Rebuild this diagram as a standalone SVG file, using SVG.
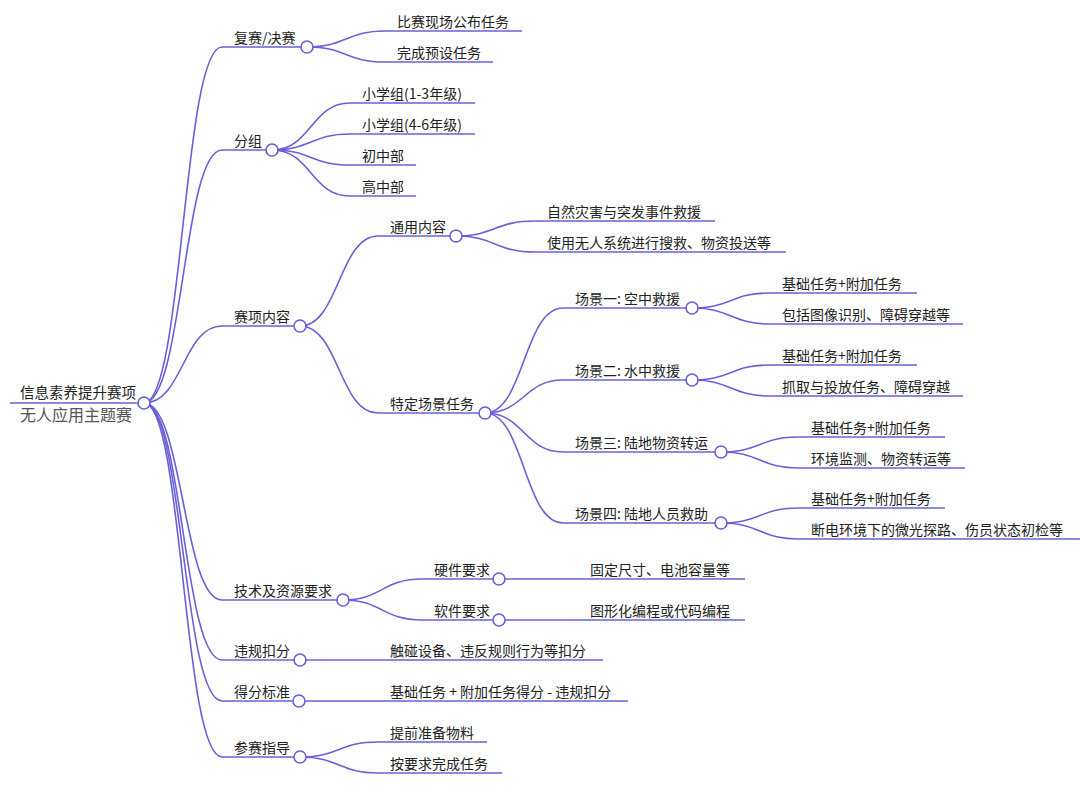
<svg xmlns="http://www.w3.org/2000/svg" width="1080" height="796" viewBox="0 0 1080 796">
<style>
.l{stroke:#6a5fda;stroke-width:1.6;fill:none}
.n line{stroke:#6a5fda;stroke-width:1.6}
.n circle{fill:#fff;stroke:#6a5fda;stroke-width:1.6}
text{font-family:"Noto Sans CJK SC","Noto Sans",sans-serif;font-size:14px;fill:#222}
.sub{font-size:16px;fill:#555}
.rt{font-size:14.5px}
</style>
<rect width="1080" height="796" fill="#fff"/>
<g id="connectors">
<path class="l" d="M144,403 C183,403 183,47 222,47"/>
<path class="l" d="M144,403 C183,403 183,150 222,150"/>
<path class="l" d="M144,403 C183,403 183,326 222,326"/>
<path class="l" d="M144,403 C183,403 183,600 222,600"/>
<path class="l" d="M144,403 C183,403 183,660 222,660"/>
<path class="l" d="M144,403 C183,403 183,701 222,701"/>
<path class="l" d="M144,403 C183,403 183,757 222,757"/>
<path class="l" d="M307,47 C346,47 346,31 385,31"/>
<path class="l" d="M307,47 C346,47 346,62 385,62"/>
<path class="l" d="M272,150 C311,150 311,103 350,103"/>
<path class="l" d="M272,150 C311,150 311,134 350,134"/>
<path class="l" d="M272,150 C311,150 311,165 350,165"/>
<path class="l" d="M272,150 C311,150 311,196 350,196"/>
<path class="l" d="M300,326 C339,326 339,236 378,236"/>
<path class="l" d="M300,326 C339,326 339,413 378,413"/>
<path class="l" d="M456,236 C495,236 495,221 535,221"/>
<path class="l" d="M456,236 C495,236 495,252 535,252"/>
<path class="l" d="M485,413 C524,413 524,308 563,308"/>
<path class="l" d="M485,413 C524,413 524,380 563,380"/>
<path class="l" d="M485,413 C524,413 524,452 563,452"/>
<path class="l" d="M485,413 C524,413 524,523 563,523"/>
<path class="l" d="M692,308 C731,308 731,293 770,293"/>
<path class="l" d="M692,308 C731,308 731,324 770,324"/>
<path class="l" d="M692,380 C731,380 731,365 770,365"/>
<path class="l" d="M692,380 C731,380 731,396 770,396"/>
<path class="l" d="M721,452 C760,452 760,437 799,437"/>
<path class="l" d="M721,452 C760,452 760,468 799,468"/>
<path class="l" d="M721,523 C760,523 760,508 799,508"/>
<path class="l" d="M721,523 C760,523 760,539 799,539"/>
<path class="l" d="M343,600 C382,600 382,579 422,579"/>
<path class="l" d="M343,600 C382,600 382,620 422,620"/>
<path class="l" d="M499,579 L578,579"/>
<path class="l" d="M499,620 L578,620"/>
<path class="l" d="M300,660 L378,660"/>
<path class="l" d="M299,701 L378,701"/>
<path class="l" d="M300,757 C339,757 339,742 378,742"/>
<path class="l" d="M300,757 C339,757 339,773 378,773"/>
</g>
<g id="n-root" class="n"><line x1="10" y1="403" x2="144" y2="403"/><text class="rt" x="20" y="398">信息素养提升赛项</text><text class="sub" x="20" y="421">无人应用主题赛</text><circle cx="144" cy="403" r="6"/></g>
<g id="n-fusai" class="n"><line x1="222" y1="47" x2="307" y2="47"/><text x="234" y="43">复赛/决赛</text><circle cx="307" cy="47" r="6"/></g>
<g id="n-fusai-1" class="n"><line x1="385" y1="31" x2="522" y2="31"/><text x="397" y="27">比赛现场公布任务</text></g>
<g id="n-fusai-2" class="n"><line x1="385" y1="62" x2="493" y2="62"/><text x="397" y="58">完成预设任务</text></g>
<g id="n-fenzu" class="n"><line x1="222" y1="150" x2="272" y2="150"/><text x="234" y="146">分组</text><circle cx="272" cy="150" r="6"/></g>
<g id="n-fenzu-1" class="n"><line x1="350" y1="103" x2="475" y2="103"/><text x="362" y="99">小学组(1-3年级)</text></g>
<g id="n-fenzu-2" class="n"><line x1="350" y1="134" x2="475" y2="134"/><text x="362" y="130">小学组(4-6年级)</text></g>
<g id="n-fenzu-3" class="n"><line x1="350" y1="165" x2="416" y2="165"/><text x="362" y="161">初中部</text></g>
<g id="n-fenzu-4" class="n"><line x1="350" y1="196" x2="416" y2="196"/><text x="362" y="192">高中部</text></g>
<g id="n-neirong" class="n"><line x1="222" y1="326" x2="300" y2="326"/><text x="234" y="322">赛项内容</text><circle cx="300" cy="326" r="6"/></g>
<g id="n-tongyong" class="n"><line x1="378" y1="236" x2="456" y2="236"/><text x="390" y="232">通用内容</text><circle cx="456" cy="236" r="6"/></g>
<g id="n-tongyong-1" class="n"><line x1="535" y1="221" x2="715" y2="221"/><text x="547" y="217">自然灾害与突发事件救援</text></g>
<g id="n-tongyong-2" class="n"><line x1="535" y1="252" x2="786" y2="252"/><text x="547" y="248">使用无人系统进行搜救、物资投送等</text></g>
<g id="n-teding" class="n"><line x1="378" y1="413" x2="485" y2="413"/><text x="390" y="409">特定场景任务</text><circle cx="485" cy="413" r="6"/></g>
<g id="n-cj1" class="n"><line x1="563" y1="308" x2="692" y2="308"/><text x="575" y="304">场景一: 空中救援</text><circle cx="692" cy="308" r="6"/></g>
<g id="n-cj1-1" class="n"><line x1="770" y1="293" x2="917" y2="293"/><text x="782" y="289">基础任务+附加任务</text></g>
<g id="n-cj1-2" class="n"><line x1="770" y1="324" x2="963" y2="324"/><text x="782" y="320">包括图像识别、障碍穿越等</text></g>
<g id="n-cj2" class="n"><line x1="563" y1="380" x2="692" y2="380"/><text x="575" y="376">场景二: 水中救援</text><circle cx="692" cy="380" r="6"/></g>
<g id="n-cj2-1" class="n"><line x1="770" y1="365" x2="917" y2="365"/><text x="782" y="361">基础任务+附加任务</text></g>
<g id="n-cj2-2" class="n"><line x1="770" y1="396" x2="963" y2="396"/><text x="782" y="392">抓取与投放任务、障碍穿越</text></g>
<g id="n-cj3" class="n"><line x1="563" y1="452" x2="721" y2="452"/><text x="575" y="448">场景三: 陆地物资转运</text><circle cx="721" cy="452" r="6"/></g>
<g id="n-cj3-1" class="n"><line x1="799" y1="437" x2="945" y2="437"/><text x="811" y="433">基础任务+附加任务</text></g>
<g id="n-cj3-2" class="n"><line x1="799" y1="468" x2="965" y2="468"/><text x="811" y="464">环境监测、物资转运等</text></g>
<g id="n-cj4" class="n"><line x1="563" y1="523" x2="721" y2="523"/><text x="575" y="519">场景四: 陆地人员救助</text><circle cx="721" cy="523" r="6"/></g>
<g id="n-cj4-1" class="n"><line x1="799" y1="508" x2="945" y2="508"/><text x="811" y="504">基础任务+附加任务</text></g>
<g id="n-cj4-2" class="n"><line x1="799" y1="539" x2="1080" y2="539"/><text x="811" y="535">断电环境下的微光探路、伤员状态初检等</text></g>
<g id="n-jishu" class="n"><line x1="222" y1="600" x2="343" y2="600"/><text x="234" y="596">技术及资源要求</text><circle cx="343" cy="600" r="6"/></g>
<g id="n-yingjian" class="n"><line x1="422" y1="579" x2="499" y2="579"/><text x="434" y="575">硬件要求</text><circle cx="499" cy="579" r="6"/></g>
<g id="n-yingjian-1" class="n"><line x1="578" y1="579" x2="745" y2="579"/><text x="590" y="575">固定尺寸、电池容量等</text></g>
<g id="n-ruanjian" class="n"><line x1="422" y1="620" x2="499" y2="620"/><text x="434" y="616">软件要求</text><circle cx="499" cy="620" r="6"/></g>
<g id="n-ruanjian-1" class="n"><line x1="578" y1="620" x2="745" y2="620"/><text x="590" y="616">图形化编程或代码编程</text></g>
<g id="n-weigui" class="n"><line x1="222" y1="660" x2="300" y2="660"/><text x="234" y="656">违规扣分</text><circle cx="300" cy="660" r="6"/></g>
<g id="n-weigui-1" class="n"><line x1="378" y1="660" x2="603" y2="660"/><text x="390" y="656">触碰设备、违反规则行为等扣分</text></g>
<g id="n-defen" class="n"><line x1="222" y1="701" x2="299" y2="701"/><text x="234" y="697">得分标准</text><circle cx="299" cy="701" r="6"/></g>
<g id="n-defen-1" class="n"><line x1="378" y1="701" x2="628" y2="701"/><text x="390" y="697">基础任务 + 附加任务得分 - 违规扣分</text></g>
<g id="n-zhidao" class="n"><line x1="222" y1="757" x2="300" y2="757"/><text x="234" y="753">参赛指导</text><circle cx="300" cy="757" r="6"/></g>
<g id="n-zhidao-1" class="n"><line x1="378" y1="742" x2="487" y2="742"/><text x="390" y="738">提前准备物料</text></g>
<g id="n-zhidao-2" class="n"><line x1="378" y1="773" x2="502" y2="773"/><text x="390" y="769">按要求完成任务</text></g>
</svg>
